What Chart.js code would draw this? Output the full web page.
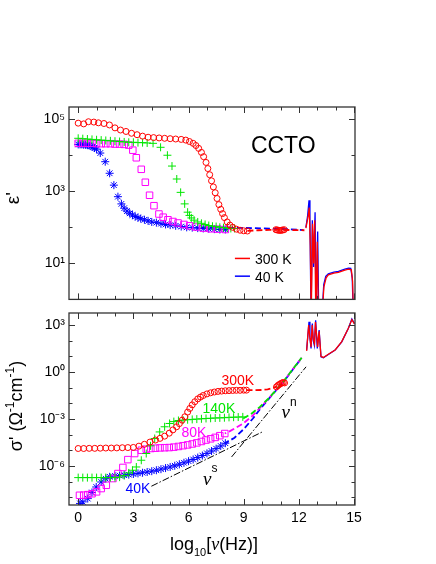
<!DOCTYPE html>
<html>
<head>
<meta charset="utf-8">
<script src="https://cdn.jsdelivr.net/npm/chart.js@4/dist/chart.umd.min.js"></script>
<style>
  html, body { margin: 0; padding: 0; background: #fff; }
  body { width: 436px; height: 564px; position: relative; overflow: hidden; }
  canvas { position: absolute; left: 0; }
  #top { top: 0; }
  #bottom { top: 305px; }
</style>
</head>
<body>
<canvas id="top" width="436" height="305"></canvas>
<canvas id="bottom" width="436" height="259"></canvas>
<script>
// ---- axis ticks ----
const xTicks = [0, 1, 2, 3, 4, 5, 6, 7, 8, 9, 10, 11, 12, 13, 14, 15];
const xLabels = [0, 3, 6, 9, 12, 15];
const epsDecades = [0, 1, 2, 3, 4, 5];
const epsShown = [1, 3, 5];
const sigDecades = [-8, -7, -6, -5, -4, -3, -2, -1, 0, 1, 2, 3];
const sigShown = [-6, -3, 0, 3];

// ---- top panel: permittivity eps' ----
const epsFreq300 = [0.0, 0.3, 0.56, 0.85, 1.1, 1.4, 1.7, 2.0, 2.3, 2.6, 2.9, 3.2, 3.5, 3.8, 4.1, 4.4, 4.7, 5.0, 5.3, 5.6, 5.85, 6.05, 6.25, 6.4, 6.55, 6.7, 6.82, 6.95, 7.05, 7.15, 7.25, 7.35, 7.45, 7.55, 7.65, 7.75, 7.85, 7.95, 8.1, 8.25, 8.4, 8.6, 8.8, 9.0, 9.2];
const eps300 = [77600, 74100, 85100, 83200, 79400, 75900, 69200, 57500, 50100, 45700, 40700, 37200, 33900, 31600, 30900, 30200, 29500, 28800, 28200, 27500, 26300, 24000, 21400, 18600, 15500, 12000, 9120, 6310, 4270, 2880, 1950, 1320, 912, 631, 427, 316, 240, 186, 141, 115, 100, 89, 83, 80, 79];
const epsFreqHi300 = [10.75, 10.82, 10.9, 10.97, 11.05, 11.12, 11.2];
const epsHi300 = [86, 84, 83, 82, 83, 84, 86];

const epsFreq140 = [0, 0.25, 0.5, 0.75, 1.0, 1.25, 1.5, 1.75, 2.0, 2.25, 2.5, 2.75, 3.0, 3.25, 3.5, 3.75, 4.07, 4.48, 4.85, 5.1, 5.36, 5.57, 5.79, 5.95, 6.05, 6.15, 6.3, 6.5, 6.7, 6.9, 7.1, 7.3, 7.5, 7.7, 7.9, 8.1, 8.3, 8.5];
const eps140 = [29500, 28800, 28200, 27500, 26900, 26300, 25700, 25100, 24500, 24000, 23400, 22900, 22900, 22400, 22400, 21900, 21400, 16600, 10000, 5010, 2190, 933, 447, 263, 214, 182, 158, 141, 129, 120, 112, 107, 105, 100, 98, 95, 93, 93];

const epsFreq80 = [0, 0.25, 0.5, 0.75, 1.0, 1.25, 1.5, 1.75, 2.0, 2.25, 2.5, 2.75, 2.97, 3.16, 3.43, 3.65, 3.88, 4.12, 4.39, 4.62, 4.88, 5.15, 5.43, 5.75, 6.06, 6.4, 6.8, 7.2, 7.6, 8.0];
const eps80 = [21400, 21400, 21400, 21400, 20900, 20900, 20900, 20900, 20400, 20400, 20000, 19100, 13800, 8510, 4070, 1780, 776, 398, 234, 191, 162, 145, 132, 120, 110, 102, 95, 91, 89, 87];

const epsFreq40 = [0, 0.1, 0.2, 0.3, 0.4, 0.5, 0.6, 0.7, 0.8, 0.89, 1.0, 1.2, 1.47, 1.71, 1.94, 2.16, 2.35, 2.5, 2.65, 2.8, 2.95, 3.1, 3.25, 3.4, 3.6, 3.8, 4.0, 4.25, 4.5, 4.75, 5.0, 5.3, 5.6, 5.9, 6.2, 6.5, 6.8, 7.1, 7.4, 7.7, 8.0];
const eps40 = [19950, 19950, 19950, 19500, 19500, 19050, 18600, 17800, 17000, 15850, 14800, 11500, 6610, 3160, 1480, 708, 447, 339, 282, 245, 219, 200, 186, 174, 162, 151, 141, 135, 126, 120, 115, 110, 105, 100, 98, 95, 93, 91, 89, 87, 87];

const epsFitFreq300 = [9.2, 9.8, 10.4, 11.0, 11.6, 12.3];
const epsFit300 = [80, 83, 85, 85, 84, 83];
const epsFitFreq40 = [6.4, 7.5, 8.5, 9.5, 10.5, 11.5, 12.24];
const epsFit40 = [99, 98, 97, 95, 92, 88, 84];

const epsFreqIR300 = [12.38, 12.5, 12.56, 12.62, 12.67, 12.74, 12.8, 12.86, 12.92, 13.0, 13.06, 13.25, 13.36, 13.48, 13.6, 13.9, 14.15, 14.5, 14.7, 14.85, 14.92, 14.97];
const epsIR300 = [95, 200, 355, 31.6, 0.3, 126, 10, 158, 0.3, 40, 0.3, 0.3, 2.24, 3.98, 4.79, 5.37, 5.62, 6.46, 6.92, 6.61, 3.16, 0.3];
const epsFreqIR40 = [12.38, 12.47, 12.55, 12.6, 12.66, 12.73, 12.8, 12.88, 12.93, 13.02, 13.08, 13.25, 13.35, 13.46, 13.6, 13.9, 14.15, 14.5, 14.7, 14.82, 14.9, 14.96];
const epsIR40 = [100, 200, 562, 158, 0.3, 158, 7.9, 263, 0.3, 76, 0.3, 0.3, 2.57, 4.37, 5.13, 5.75, 6.03, 6.92, 7.41, 7.24, 3.98, 0.3];

// ---- bottom panel: conductivity sigma' ----
const sigFreq300 = [0.0, 0.3, 0.6, 0.9, 1.2, 1.5, 1.8, 2.1, 2.4, 2.7, 3.0, 3.3, 3.6, 3.9, 4.2, 4.45, 4.7, 4.95, 5.15, 5.35, 5.5, 5.65, 5.8, 5.95, 6.07, 6.2, 6.34, 6.5, 6.65, 6.8, 7.0, 7.2, 7.4, 7.6, 7.8, 8.0, 8.2, 8.4, 8.6, 8.8, 9.0, 9.15];
const sig300 = [1.29e-5, 1.29e-5, 1.32e-5, 1.32e-5, 1.35e-5, 1.38e-5, 1.38e-5, 1.41e-5, 1.45e-5, 1.48e-5, 1.51e-5, 1.82e-5, 2.40e-5, 3.31e-5, 4.47e-5, 5.75e-5, 7.94e-5, 1.23e-4, 2.0e-4, 3.16e-4, 5.01e-4, 8.32e-4, 1.38e-3, 2.75e-3, 4.68e-3, 7.94e-3, 1.26e-2, 1.91e-2, 2.51e-2, 3.16e-2, 3.98e-2, 4.68e-2, 5.25e-2, 5.75e-2, 6.03e-2, 6.31e-2, 6.46e-2, 6.61e-2, 6.76e-2, 6.76e-2, 6.92e-2, 6.92e-2];
const sigFreqHi300 = [10.78, 10.85, 10.92, 11.0, 11.08, 11.15, 11.22];
const sigHi300 = [0.112, 0.135, 0.155, 0.178, 0.2, 0.214, 0.2];

const sigFreq140 = [0, 0.25, 0.5, 0.75, 1.0, 1.25, 1.5, 1.75, 2.0, 2.25, 2.5, 2.75, 2.95, 3.16, 3.43, 3.7, 3.93, 4.16, 4.43, 4.7, 4.97, 5.2, 5.45, 5.7, 5.95, 6.2, 6.45, 6.7, 6.95, 7.2, 7.45, 7.7, 7.95, 8.2, 8.45, 8.7, 8.95];
const sig140 = [1.78e-7, 1.78e-7, 1.78e-7, 1.78e-7, 1.78e-7, 1.78e-7, 1.78e-7, 1.78e-7, 1.78e-7, 1.91e-7, 2.40e-7, 3.55e-7, 5.25e-7, 8.51e-7, 2.29e-6, 6.17e-6, 1.91e-5, 5.62e-5, 1.48e-4, 3.16e-4, 5.13e-4, 6.76e-4, 7.94e-4, 8.51e-4, 8.91e-4, 9.33e-4, 9.77e-4, 1.02e-3, 1.07e-3, 1.10e-3, 1.15e-3, 1.17e-3, 1.20e-3, 1.26e-3, 1.29e-3, 1.32e-3, 1.35e-3];

const sigFreq80 = [0.07, 0.3, 0.52, 0.75, 1.0, 1.25, 1.53, 1.89, 2.16, 2.43, 2.7, 3.07, 3.43, 3.7, 3.95, 4.2, 4.45, 4.7, 4.95, 5.2, 5.45, 5.7, 5.95, 6.2, 6.45, 6.7, 6.95, 7.2, 7.45, 7.7, 7.97];
const sig80 = [1.32e-8, 1.35e-8, 1.45e-8, 1.66e-8, 2.19e-8, 3.55e-8, 5.75e-8, 1.55e-7, 3.24e-7, 7.94e-7, 2.51e-6, 6.17e-6, 1.0e-5, 1.17e-5, 1.29e-5, 1.35e-5, 1.41e-5, 1.45e-5, 1.48e-5, 1.58e-5, 1.74e-5, 1.95e-5, 2.19e-5, 2.51e-5, 2.95e-5, 3.63e-5, 4.47e-5, 5.37e-5, 6.61e-5, 8.51e-5, 1.17e-4];

const sigFreq40 = [0.1, 0.25, 0.52, 0.75, 0.98, 1.25, 1.5, 1.71, 2.0, 2.25, 2.5, 2.75, 3.0, 3.25, 3.5, 3.75, 4.0, 4.25, 4.5, 4.75, 5.0, 5.25, 5.5, 5.75, 6.0, 6.25, 6.5, 6.75, 7.0, 7.25, 7.5, 7.75, 8.0];
const sig40 = [3.98e-9, 5.01e-9, 8.13e-9, 2.0e-8, 4.47e-8, 9.33e-8, 1.51e-7, 2.0e-7, 2.29e-7, 2.40e-7, 2.57e-7, 2.75e-7, 3.02e-7, 3.31e-7, 3.63e-7, 4.07e-7, 4.57e-7, 5.25e-7, 6.17e-7, 7.24e-7, 8.51e-7, 1.02e-6, 1.26e-6, 1.58e-6, 2.0e-6, 2.57e-6, 3.39e-6, 4.57e-6, 6.31e-6, 8.91e-6, 1.26e-5, 1.86e-5, 2.82e-5];

const sigFitFreq300 = [9.15, 9.6, 10.0, 10.3, 10.55, 10.8];
const sigFit300 = [6.92e-2, 6.92e-2, 7.08e-2, 7.76e-2, 9.33e-2, 0.117];
const sigFitFreq140 = [8.97, 9.43, 9.88, 10.43, 11.15, 11.6, 12.15];
const sigFit140 = [1.07e-3, 2.24e-3, 5.89e-3, 2.57e-2, 0.234, 1.2, 8.13];
const sigFitFreq80 = [7.97, 8.25, 8.6, 8.97, 9.43, 9.88, 10.43, 11.15, 11.6, 12.15];
const sigFit80 = [1.17e-4, 1.66e-4, 2.82e-4, 5.13e-4, 1.41e-3, 5.01e-3, 2.57e-2, 0.234, 1.2, 8.13];
const sigFitFreq40 = [8.0, 8.5, 9.0, 9.5, 9.9, 10.43, 11.15, 11.6, 12.15];
const sigFit40 = [2.82e-5, 6.31e-5, 2.24e-4, 1.07e-3, 4.47e-3, 2.4e-2, 0.224, 1.12, 7.94];

const sigFreqIR300 = [12.42, 12.53, 12.59, 12.66, 12.72, 12.78, 12.85, 12.9, 12.96, 13.02, 13.1, 13.2, 13.33, 13.6, 13.97, 14.33, 14.69, 14.88, 15.02];
const sigIR300 = [22.4, 1000, 200, 40, 1000, 126, 63, 1580, 251, 40, 400, 10, 8.5, 13.5, 25.7, 87, 630, 2240, 1200];
const sigFreqIR40 = [12.42, 12.55, 12.6, 12.66, 12.73, 12.78, 12.84, 12.91, 12.96, 13.0, 13.1, 13.2, 13.33, 13.6, 13.97, 14.33, 14.69, 14.88, 15.02];
const sigIR40 = [25.1, 1620, 158, 31.6, 1260, 100, 50.1, 2000, 200, 31.6, 479, 9.33, 8.13, 13.2, 25.1, 85.1, 617, 2400, 1260];

// power-law guide lines nu^s and nu^n
const slopeSFreq = [3.98, 10.06];
const slopeS = [5.01e-8, 1.58e-4];
const slopeNFreq = [8.34, 12.39];
const slopeN = [3.72e-6, 2.14];

// ---- styling ----
const SANS = '"Liberation Sans", Arial, Helvetica, sans-serif';
const SERIF = '"Liberation Serif", "Times New Roman", serif';
const RED = '#ff0000', GREEN = '#00e600', MAGENTA = '#ff00ff', BLUE = '#0000ff';
const tickFont = { family: SANS, size: 14 };

const sup = { '-': '\u207B', '0': '\u2070', '1': '\u00B9', '2': '\u00B2', '3': '\u00B3', '4': '\u2074', '5': '\u2075', '6': '\u2076', '7': '\u2077', '8': '\u2078', '9': '\u2079' };
function powerLabel(v, shown) {
  const e = Math.round(Math.log10(v));
  return shown.includes(e) ? '10' + String(e).split('').map(c => sup[c]).join('') : '';
}

const pts = (xs, ys) => xs.map((x, i) => ({ x, y: ys[i] }));

function markers(xs, ys, style, color, radius) {
  return {
    data: pts(xs, ys), showLine: false, pointStyle: style, pointRadius: radius,
    pointBorderColor: color, pointBackgroundColor: 'rgba(0,0,0,0)', pointBorderWidth: 1, borderColor: color
  };
}
function curve(xs, ys, color, dash, width, offset) {
  return {
    data: pts(xs, ys), showLine: true, pointRadius: 0, borderColor: color,
    borderWidth: width, borderDash: dash || [], borderDashOffset: offset || 0, tension: 0
  };
}

function xScale(withLabels) {
  return {
    type: 'linear', min: -0.5, max: 15.05,
    grid: { display: false, drawTicks: false }, border: { display: false },
    afterBuildTicks: s => { s.ticks = xTicks.map(v => ({ value: v })); },
    ticks: {
      display: withLabels, padding: 5, maxRotation: 0, autoSkip: false, font: tickFont, color: '#000',
      callback: v => xLabels.includes(v) ? String(v) : ''
    },
    afterFit: s => { s.height = withLabels ? 59 : 4; s.paddingLeft = 0; s.paddingRight = 0; }
  };
}
function yScale(min, max, decades, shown) {
  return {
    type: 'logarithmic', min, max,
    grid: { display: false, drawTicks: false }, border: { display: false },
    afterBuildTicks: s => { s.ticks = decades.map(e => ({ value: Math.pow(10, e) })); },
    ticks: { padding: 4, autoSkip: false, font: tickFont, color: '#000', callback: v => powerLabel(v, shown) },
    afterFit: s => { s.width = 69; s.paddingTop = 0; s.paddingBottom = 0; }
  };
}

// rich text (super/subscripts) drawn on the canvas
function fontOf(s) {
  return (s.italic ? 'italic ' : '') + s.size + 'px ' + (s.serif ? SERIF : SANS);
}
function drawRich(ctx, x, y, segs, color, align) {
  ctx.fillStyle = color;
  ctx.textBaseline = 'alphabetic';
  ctx.textAlign = 'left';
  let w = 0;
  for (const s of segs) { ctx.font = fontOf(s); w += ctx.measureText(s.t).width; }
  let cx = align === 'center' ? x - w / 2 : x;
  for (const s of segs) {
    ctx.font = fontOf(s);
    ctx.fillText(s.t, cx, y + (s.dy || 0));
    cx += ctx.measureText(s.t).width;
  }
}

// frame with inward ticks on all four sides, labels, legend, axis titles
const frameAndText = {
  id: 'frameAndText',
  afterDraw(chart, args, o) {
    const { ctx, chartArea: a } = chart;
    const xs = chart.scales.x, ys = chart.scales.y;
    ctx.save();
    ctx.strokeStyle = '#333';
    ctx.lineWidth = 1.3;
    ctx.strokeRect(a.left, a.top, a.right - a.left, a.bottom - a.top);
    ctx.lineWidth = 1;
    ctx.beginPath();
    for (const t of xs.ticks) {
      const p = Math.round(xs.getPixelForValue(t.value)) + 0.5;
      const len = xLabels.includes(t.value) ? 6 : 3.5;
      ctx.moveTo(p, a.bottom); ctx.lineTo(p, a.bottom - len);
      ctx.moveTo(p, a.top); ctx.lineTo(p, a.top + len);
    }
    for (const t of ys.ticks) {
      const p = Math.round(ys.getPixelForValue(t.value)) + 0.5;
      const len = o.yMajor.includes(Math.round(Math.log10(t.value))) ? 6 : 3.5;
      ctx.moveTo(a.left, p); ctx.lineTo(a.left + len, p);
      ctx.moveTo(a.right, p); ctx.lineTo(a.right - len, p);
    }
    ctx.stroke();

    for (const l of o.legend || []) {
      const py = ys.getPixelForValue(l.y);
      ctx.strokeStyle = l.color;
      ctx.lineWidth = 1.5;
      ctx.beginPath();
      ctx.moveTo(xs.getPixelForValue(l.x0), py);
      ctx.lineTo(xs.getPixelForValue(l.x1), py);
      ctx.stroke();
      drawRich(ctx, xs.getPixelForValue(l.tx), ys.getPixelForValue(l.ty), [{ t: l.label, size: 14 }], '#000', 'left');
    }
    for (const t of o.texts || []) {
      drawRich(ctx, xs.getPixelForValue(t.x), ys.getPixelForValue(t.y), t.segs, t.color, t.align);
    }
    if (o.xTitle) drawRich(ctx, (a.left + a.right) / 2 + 2, a.bottom + 45, o.xTitle, '#000', 'center');
    if (o.yTitle) {
      ctx.save();
      ctx.translate(a.left - o.yTitleGap, (a.top + a.bottom) / 2 + o.yTitleShift);
      ctx.rotate(-Math.PI / 2);
      drawRich(ctx, 0, 0, o.yTitle, '#000', 'center');
      ctx.restore();
    }
    ctx.restore();
  }
};

const baseOptions = (padTop, xs, ys, deco) => ({
  responsive: false,
  animation: false,
  layout: { padding: { top: padTop, right: 81, bottom: 0, left: 0 } },
  scales: { x: xs, y: ys },
  plugins: { legend: { display: false }, tooltip: { enabled: false }, frameAndText: deco }
});

// ---- top chart ----
new Chart(document.getElementById('top'), {
  type: 'scatter',
  data: {
    datasets: [
      markers(epsFreq300, eps300, 'circle', RED, 3),
      markers(epsFreqHi300, epsHi300, 'circle', RED, 3),
      markers(epsFreq140, eps140, 'cross', GREEN, 4),
      markers(epsFreq80, eps80, 'rect', MAGENTA, 4.6),
      markers(epsFreq40, eps40, 'star', BLUE, 4),
      curve(epsFitFreq300, epsFit300, RED, [6, 3], 1.8),
      curve(epsFitFreq40, epsFit40, BLUE, [6, 3], 1.8, 4),
      curve(epsFreqIR300, epsIR300, RED, [], 1.3),
      curve(epsFreqIR40, epsIR40, BLUE, [], 1.3)
    ]
  },
  options: baseOptions(107, xScale(false), yScale(1, 2.18e5, epsDecades, epsShown), {
    yMajor: epsShown,
    yTitle: [{ t: '\u03B5\'', size: 19 }], yTitleGap: 50, yTitleShift: -5,
    texts: [{ x: 11.15, y: 11700, align: 'center', color: '#000', segs: [{ t: 'CCTO', size: 23 }] }],
    legend: [
      { label: '300 K', color: RED, x0: 8.52, x1: 9.34, y: 13.7, tx: 9.61, ty: 9.75 },
      { label: '40 K', color: BLUE, x0: 8.52, x1: 9.34, y: 4.41, tx: 9.61, ty: 3.09 }
    ]
  }),
  plugins: [frameAndText]
});

// ---- bottom chart ----
const nu = { t: '\u03BD', size: 19, italic: true, serif: true };
new Chart(document.getElementById('bottom'), {
  type: 'scatter',
  data: {
    datasets: [
      markers(sigFreq300, sig300, 'circle', RED, 3),
      markers(sigFreqHi300, sigHi300, 'circle', RED, 3),
      markers(sigFreq140, sig140, 'cross', GREEN, 4),
      markers(sigFreq80, sig80, 'rect', MAGENTA, 4.6),
      markers(sigFreq40, sig40, 'star', BLUE, 4),
      curve(sigFitFreq300, sigFit300, RED, [6, 3], 1.8),
      curve(sigFitFreq140, sigFit140, GREEN, [6, 3], 1.8),
      curve(sigFitFreq80, sigFit80, MAGENTA, [6, 3], 1.8, 4.5),
      curve(sigFitFreq40, sigFit40, BLUE, [6, 3], 1.8, 2),
      curve(sigFreqIR300, sigIR300, RED, [], 1.3),
      curve(sigFreqIR40, sigIR40, BLUE, [], 1.3),
      curve(slopeSFreq, slopeS, '#000', [7, 2, 1.5, 2], 1),
      curve(slopeNFreq, slopeN, '#000', [7, 2, 1.5, 2], 1)
    ]
  },
  options: baseOptions(8, xScale(true), yScale(3.16e-9, 5.9e3, sigDecades, sigShown), {
    yMajor: sigShown,
    yTitle: [{ t: '\u03C3\' (\u03A9', size: 18 }, { t: '-1', size: 12, dy: -8 }, { t: 'cm', size: 18 }, { t: '-1', size: 12, dy: -8 }, { t: ')', size: 18 }],
    yTitleGap: 47, yTitleShift: -3,
    xTitle: [{ t: 'log', size: 18 }, { t: '10', size: 11, dy: 6 }, { t: '[', size: 18 }, { t: '\u03BD', size: 18, italic: true, serif: true }, { t: '(Hz)]', size: 18 }],
    texts: [
      { x: 8.68, y: 0.145, align: 'center', color: RED, segs: [{ t: '300K', size: 14 }] },
      { x: 7.65, y: 2.24e-3, align: 'center', color: GREEN, segs: [{ t: '140K', size: 14 }] },
      { x: 6.29, y: 7.08e-5, align: 'center', color: MAGENTA, segs: [{ t: '80K', size: 14 }] },
      { x: 3.25, y: 1.86e-8, align: 'center', color: BLUE, segs: [{ t: '40K', size: 14 }] },
      { x: 6.79, y: 5.75e-8, align: 'left', color: '#000', segs: [nu, { t: 's', size: 12, dy: -13 }] },
      { x: 11.06, y: 1.07e-3, align: 'left', color: '#000', segs: [nu, { t: 'n', size: 12, dy: -12 }] }
    ]
  }),
  plugins: [frameAndText]
});
</script>
</body>
</html>
